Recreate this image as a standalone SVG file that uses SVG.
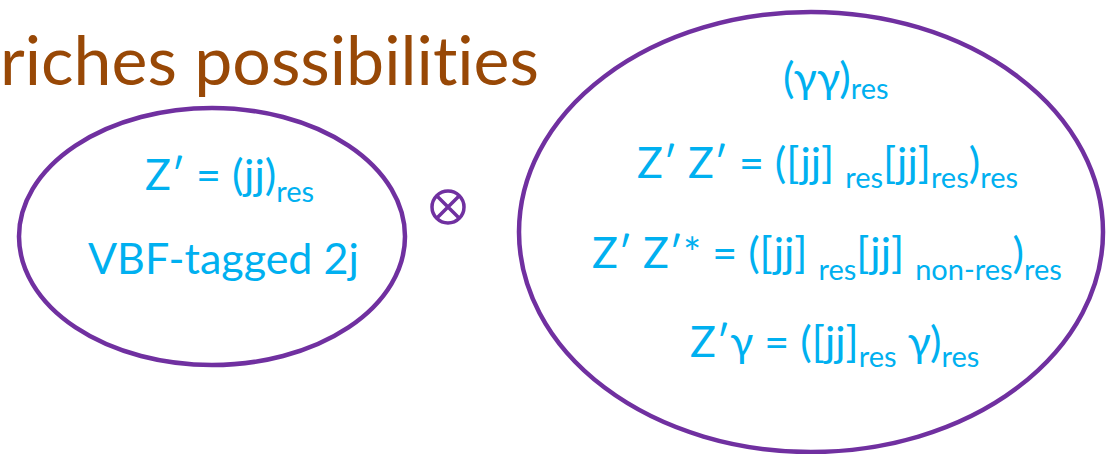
<svg xmlns="http://www.w3.org/2000/svg" width="1109" height="454" viewBox="0 0 1109 454">
<style>
text{font-variant-ligatures:none}
.t{font-family:Lato,"Open Sans","Liberation Sans",sans-serif;fill:#00B0F0;font-size:43px}
.s{font-size:29px}
.e{fill:none;stroke:#7030A0;stroke-width:4.5}
.title{font-family:Lato,"Open Sans","Liberation Sans",sans-serif;fill:#984806;font-size:68px}
</style>
<rect width="1109" height="454" fill="#fff"/>
<text class="title" x="0" y="85">riches possibilities</text>
<g id="left">
<ellipse class="e" cx="212" cy="236.5" rx="193" ry="128.5"/>
<text class="t" x="145" y="190">Z′ = (jj)<tspan class="s" dy="12">res</tspan></text>
<text class="t" x="88" y="274">VBF-tagged 2j</text>
</g>
<g id="otimes">
<circle cx="448" cy="207" r="16" fill="none" stroke="#7030A0" stroke-width="3.5"/>
<path d="M436.7 195.7L459.3 218.3M459.3 195.7L436.7 218.3" stroke="#7030A0" stroke-width="3.5"/>
</g>
<g id="right">
<ellipse class="e" cx="811" cy="232" rx="292" ry="220"/>
<text class="t" x="783" y="93">(γγ)<tspan class="s" dy="6">res</tspan></text>
<text class="t" x="637" y="178">Z′ Z′ = ([jj] <tspan class="s" dy="10">res</tspan><tspan dy="-10">[jj]</tspan><tspan class="s" dy="10">res</tspan><tspan dy="-10">)</tspan><tspan class="s" dy="10">res</tspan></text>
<text class="t" x="592" y="268">Z′ Z′* = ([jj] <tspan class="s" dy="12">res</tspan><tspan dy="-12">[jj] </tspan><tspan class="s" dy="12">non-res</tspan><tspan dy="-12">)</tspan><tspan class="s" dy="12">res</tspan></text>
<text class="t" x="690" y="357">Z′γ = ([jj]<tspan class="s" dy="10">res</tspan><tspan dy="-10"> γ)</tspan><tspan class="s" dy="10">res</tspan></text>
</g>
</svg>
